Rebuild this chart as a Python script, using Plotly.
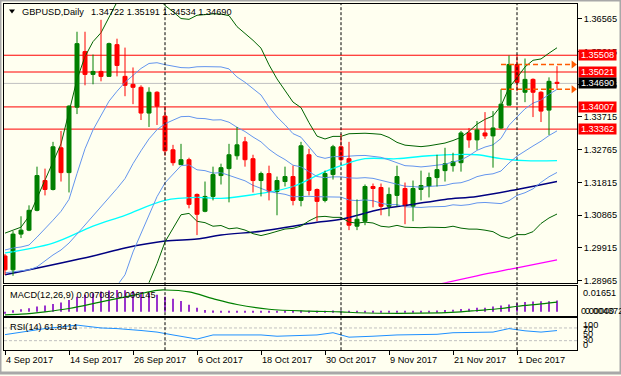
import plotly.graph_objects as go
import numpy as np

W, H = 621, 376
def px_x(p): return p / W
def px_y(p): return 1 - p / H

FONT = "Liberation Sans, Arial, sans-serif"
FS = 9.2

# ---------------- price data (daily bars, 4 Sep 2017 .. 8 Dec 2017) ----------------
opens = [1.29677, 1.29274, 1.30312, 1.30427, 1.31003, 1.31868, 1.31608, 1.32819, 1.32098, 1.34000,
         1.35614, 1.34952, 1.35038, 1.34894, 1.35816, 1.34894, 1.34663, 1.34577, 1.33828, 1.34433,
         1.33741, 1.32761, 1.32329, 1.32473, 1.31464, 1.30974, 1.31407, 1.32012, 1.32214, 1.32588,
         1.32992, 1.32502, 1.31868, 1.32070, 1.31551, 1.31839, 1.31983, 1.31291, 1.32617, 1.31608,
         1.31291, 1.32041, 1.32848, 1.32502, 1.30542, 1.30686, 1.31695, 1.31666, 1.31118, 1.31436,
         1.31637, 1.31118, 1.31608, 1.31695, 1.31954, 1.32156, 1.32300, 1.32387, 1.33251, 1.33049,
         1.33251, 1.33165, 1.33395, 1.34058, 1.35240, 1.34433, 1.34807, 1.34433, 1.33914, 1.34722]
highs = [1.29735, 1.30398, 1.30830, 1.31147, 1.32271, 1.32214, 1.32992, 1.33309, 1.34058, 1.36191,
         1.36191, 1.35528, 1.36537, 1.35874, 1.35989, 1.35730, 1.35153, 1.34635, 1.34577, 1.34462,
         1.34029, 1.32905, 1.32934, 1.32531, 1.31493, 1.31839, 1.32271, 1.32358, 1.32934, 1.33424,
         1.33136, 1.32617, 1.32127, 1.32300, 1.31983, 1.32271, 1.32300, 1.32992, 1.32790, 1.31637,
         1.32156, 1.32905, 1.33222, 1.32992, 1.31320, 1.31753, 1.31781, 1.31781, 1.31666, 1.32300,
         1.31810, 1.31868, 1.32156, 1.32098, 1.32617, 1.32819, 1.32675, 1.33309, 1.33395, 1.33597,
         1.33856, 1.33885, 1.34519, 1.35499, 1.35528, 1.35413, 1.34836, 1.34462, 1.34865, 1.35191]
lows = [1.29130, 1.29101, 1.30196, 1.30398, 1.30974, 1.31436, 1.31580, 1.31839, 1.31522, 1.33799,
        1.34635, 1.34663, 1.34750, 1.34894, 1.34894, 1.34318, 1.34087, 1.33626, 1.33424, 1.33482,
        1.32588, 1.32300, 1.32329, 1.31061, 1.30283, 1.30946, 1.31291, 1.31753, 1.31234, 1.32473,
        1.32271, 1.31522, 1.31407, 1.31291, 1.30859, 1.31695, 1.31147, 1.31118, 1.31436, 1.30686,
        1.31234, 1.31897, 1.32415, 1.30427, 1.30427, 1.30571, 1.31090, 1.30859, 1.30830, 1.31118,
        1.30600, 1.30686, 1.31291, 1.31378, 1.31695, 1.31839, 1.32127, 1.32127, 1.32819, 1.32761,
        1.33078, 1.32242, 1.33366, 1.34058, 1.34462, 1.34145, 1.33712, 1.33568, 1.33193, 1.34534]
closes = [1.29274, 1.30312, 1.30427, 1.31003, 1.32012, 1.31608, 1.32848, 1.32098, 1.34029, 1.35845,
          1.34952, 1.35038, 1.34894, 1.35845, 1.35211, 1.34635, 1.34577, 1.33828, 1.34433, 1.34029,
          1.32732, 1.32387, 1.32473, 1.31176, 1.30888, 1.31407, 1.32041, 1.32242, 1.32617, 1.32905,
          1.32473, 1.31868, 1.32070, 1.31551, 1.31868, 1.31983, 1.31291, 1.32877, 1.31580, 1.31263,
          1.32070, 1.32848, 1.32473, 1.30571, 1.30744, 1.31695, 1.31637, 1.31118, 1.31464, 1.31983,
          1.31118, 1.31637, 1.31724, 1.31954, 1.32185, 1.32358, 1.32415, 1.33251, 1.33049, 1.33338,
          1.33165, 1.33395, 1.34087, 1.35240, 1.34721, 1.34807, 1.34433, 1.33885, 1.34750, 1.34690]

# Bollinger lines for the first 19 bars (their 20-bar window starts before the view)
bb_mid_early = [1.29188, 1.29216, 1.29245, 1.29274, 1.29360, 1.29533, 1.29706, 1.29850, 1.30052, 1.30312,
                1.30571, 1.30830, 1.31090, 1.31349, 1.31637, 1.31925, 1.32358, 1.32732, 1.33078]
bb_up1_early = [1.29850, 1.29908, 1.29937, 1.29994, 1.30225, 1.30456, 1.30715, 1.30974, 1.31320, 1.32070,
                1.32790, 1.33338, 1.33741, 1.34173, 1.34462, 1.34721, 1.34923, 1.35124, 1.35269]
bb_dn1_early = [1.28525, 1.28525, 1.28553, 1.28553, 1.28496, 1.28611, 1.28698, 1.28727, 1.28784, 1.28553,
                1.28352, 1.28323, 1.28438, 1.28525, 1.28813, 1.29130, 1.29793, 1.30340, 1.30888]
bb_up2_early = [1.30340, 1.30427, 1.30513, 1.30830, 1.31349, 1.31868, 1.32415, 1.32934, 1.33856, 1.34807,
                1.35470, 1.35903, 1.36162, 1.36594, 1.37055, 1.37401, 1.37516, 1.37401, 1.37257]
bb_dn2_early = [1.28035, 1.28006, 1.27977, 1.27718, 1.27372, 1.27199, 1.26997, 1.26767, 1.26248, 1.25815,
                1.25671, 1.25758, 1.26017, 1.26104, 1.26219, 1.26449, 1.27199, 1.28064, 1.28899]

# slower moving averages (bar index, price)
cyan_idx = [0, 6, 11, 15, 20, 24, 27, 32, 36, 40, 42, 45, 49, 53, 59, 62, 65, 69]
cyan_val = [1.29764, 1.30052, 1.30542, 1.30859, 1.31291, 1.31378, 1.31349, 1.31493, 1.31695, 1.32127,
            1.32300, 1.32502, 1.32502, 1.32588, 1.32617, 1.32502, 1.32444, 1.32444]
navy_idx = [0, 11, 15, 20, 24, 27, 32, 36, 39, 42, 47, 51, 55, 59, 64, 69]
navy_val = [1.29130, 1.29677, 1.29908, 1.30110, 1.30167, 1.30283, 1.30398, 1.30542, 1.30657, 1.30744,
            1.31032, 1.31176, 1.31320, 1.31407, 1.31608, 1.31839]
mag_idx = [54, 59, 64, 69]
mag_val = [1.28842, 1.29101, 1.29332, 1.29562]

# MACD(12,26,9)
macd_main = [-0.0008, 0.0010, 0.0016, 0.0023, 0.0033, 0.0040, 0.0050, 0.0058, 0.0075, 0.0095,
             0.0108, 0.0118, 0.0128, 0.0135, 0.0138, 0.0136, 0.0132, 0.0125, 0.0118, 0.0108,
             0.0095, 0.0082, 0.0068, 0.0045, 0.0025, 0.0012, 0.0008, 0.0005, 0.0005, 0.0006,
             0.0006, 0.0004, 0.0003, 0.0002, 0.0006, 0.0006, 0.0005, 0.0008, 0.0006, 0.0005,
             0.0005, 0.0008, 0.0008, 0.0004, 0.0003, 0.0004, 0.0004, 0.0004, 0.0004, 0.0005,
             0.0004, 0.0004, 0.0005, 0.0006, 0.0008, 0.0011, 0.0013, 0.0018, 0.0020, 0.0025,
             0.0025, 0.0033, 0.0040, 0.0046, 0.0054, 0.0062, 0.0065, 0.0067, 0.0067, 0.007082]
signal_idx = [0, 2, 5, 8, 12, 16, 19, 20, 23, 26, 29, 33, 38, 42, 44, 52, 57, 59, 62, 64, 67, 69]
signal_val = [-0.0019, -0.0015, 0.0, 0.0021, 0.0063, 0.0104, 0.0136, 0.0138, 0.0126, 0.0083, 0.0046,
              0.0016, 0.0004, 0.0, -0.0006, -0.0009, 0.0, 0.0008, 0.0021, 0.0035, 0.0050, 0.006145]

# RSI(14)
rsi_idx = [0, 2, 5, 8, 9, 12, 14, 17, 19, 21, 24, 26, 32, 34, 39, 41, 43, 46, 49, 54, 56, 61, 63, 65, 67, 69]
rsi_val = [49, 57, 68, 76, 79, 70, 68, 62, 57, 48, 35, 48, 48, 44, 48, 55, 41, 44, 48, 50, 55, 57, 68, 61, 57, 61.8414]

# axis / annotation content
date_tick_pos = [0, 8, 16, 24, 32, 40, 48, 56, 64]
date_tick_text = ["4 Sep 2017", "14 Sep 2017", "26 Sep 2017", "6 Oct 2017", "18 Oct 2017",
                  "30 Oct 2017", "9 Nov 2017", "21 Nov 2017", "1 Dec 2017"]
month_starts = [20, 42, 64]
price_ticks = [1.36565, 1.35615, 1.34665, 1.33715, 1.32765, 1.31815, 1.30865, 1.29915, 1.28965]
sr_levels = [1.35508, 1.35021, 1.34007, 1.33362]
bid_price = 1.34690
day_range = [1.35240, 1.34519]
header_symbol = "GBPUSD,Daily"
header_ohlc = "1.34722 1.35191 1.34534 1.34690"

# ---------------- derived ----------------
n = len(closes)
idx = np.arange(n)
c = np.array(closes)
up2 = np.zeros(n); up1 = np.zeros(n); mid = np.zeros(n); dn1 = np.zeros(n); dn2 = np.zeros(n)
for i in range(n):
    if i < 19:
        up2[i], up1[i], mid[i], dn1[i], dn2[i] = (bb_up2_early[i], bb_up1_early[i], bb_mid_early[i],
                                                  bb_dn1_early[i], bb_dn2_early[i])
    else:
        w = c[i - 19:i + 1]
        m, s = w.mean(), w.std()
        mid[i], up1[i], dn1[i], up2[i], dn2[i] = m, m + s, m - s, m + 2 * s, m - 2 * s

XR = [-0.125, 71.5]
Y_MAIN = [1.37113 - 0.0002882 * 285, 1.37113 - 0.0002882 * 4]

fig = go.Figure()

BG = "#FFFFF0"
GREEN = "#008000"
RED = "#FF0000"
BBG = "#006400"
BBB = "#6495ED"

def line(x, y, color, width=1, shape="linear", xa="x", ya="y"):
    fig.add_trace(go.Scatter(x=list(x), y=list(y), mode="lines", line=dict(color=color, width=width, shape=shape),
                             xaxis=xa, yaxis=ya, hoverinfo="skip", showlegend=False, cliponaxis=True))

# moving averages
line(cyan_idx, cyan_val, "#00FFFF", 1.3, "spline")
line(navy_idx, navy_val, "#000080", 1.5, "spline")
line(mag_idx, mag_val, "#FF00FF", 1.3, "spline")
# bollinger
for arr, col in [(up2, BBG), (dn2, BBG), (up1, BBB), (mid, BBB), (dn1, BBB)]:
    line(idx, arr, col, 1)

# candles
for col, cond in [(GREEN, lambda o, cl: cl >= o), (RED, lambda o, cl: cl < o)]:
    sel = [i for i in range(n) if cond(opens[i], closes[i])]
    wx, wy = [], []
    for i in sel:
        wx += [i, i, None]; wy += [lows[i], highs[i], None]
    line(wx, wy, col, 1)
    fig.add_trace(go.Bar(x=sel, y=[abs(closes[i] - opens[i]) for i in sel],
                         base=[min(opens[i], closes[i]) for i in sel], width=0.5,
                         marker=dict(color=col, line=dict(color=col, width=1)),
                         xaxis="x", yaxis="y", hoverinfo="skip", showlegend=False))

# today's high / low markers
for p in day_range:
    fig.add_trace(go.Scatter(x=[62, 70.7], y=[p, p], mode="lines",
                             line=dict(color="#FF5A00", width=1.5, dash="5px,3px"),
                             xaxis="x", yaxis="y", hoverinfo="skip", showlegend=False))
    fig.add_trace(go.Scatter(x=[71.05], y=[p], mode="markers",
                             marker=dict(symbol="triangle-right", size=7, color="#FF5A00"),
                             xaxis="x", yaxis="y", hoverinfo="skip", showlegend=False, cliponaxis=False))

# MACD pane
fig.add_trace(go.Bar(x=list(idx), y=macd_main, width=0.25, marker=dict(color="#9932CC", line=dict(width=0)),
                     xaxis="x2", yaxis="y2", hoverinfo="skip", showlegend=False))
line(signal_idx, signal_val, GREEN, 1.2, "spline", "x2", "y2")

# RSI pane
line(rsi_idx, rsi_val, "#1E90FF", 1, "linear", "x3", "y3")

shapes = []
for p in sr_levels:
    shapes.append(dict(type="line", xref="x", yref="y", x0=XR[0], x1=XR[1], y0=p, y1=p,
                       line=dict(color=RED, width=1), layer="below"))
shapes.append(dict(type="line", xref="x", yref="y", x0=XR[0], x1=XR[1], y0=bid_price, y1=bid_price,
                   line=dict(color="#C0C0C0", width=1), layer="below"))
for lv in [70, 30]:
    shapes.append(dict(type="line", xref="x3", yref="y3", x0=XR[0], x1=XR[1], y0=lv, y1=lv,
                       line=dict(color="#C0C0C0", width=1, dash="3px,2px"), layer="below"))
for m in month_starts:
    shapes.append(dict(type="line", xref="x", yref="paper", x0=m, x1=m, y0=px_y(353), y1=px_y(4),
                       line=dict(color="black", width=1, dash="3px,2px")))
# header triangle
tri = "M %f %f L %f %f L %f %f Z" % (px_x(9), px_y(9.5), px_x(15), px_y(9.5), px_x(12), px_y(13.5))
shapes.append(dict(type="path", xref="paper", yref="paper", path=tri, fillcolor="black", line=dict(width=0)))
# window frame
shapes.append(dict(type="rect", xref="paper", yref="paper", x0=0, x1=1, y0=0, y1=1,
                   line=dict(color="#A8A8A8", width=3)))

ann = []
def text(x, y, s, color="black", xanchor="left", **kw):
    d = dict(xref="paper", yref="paper", x=px_x(x), y=px_y(y), text=s, showarrow=False,
             xanchor=xanchor, yanchor="middle", font=dict(family=FONT, size=FS, color=color))
    d.update(kw)
    ann.append(d)

text(20, 12.5, header_symbol)
text(89, 12.5, header_ohlc)
text(8, 297, "MACD(12,26,9) %.6f %.6f" % (macd_main[-1], signal_val[-1]))
text(8, 330, "RSI(14) %.4f" % rsi_val[-1])
text(581, 295, "0.01651")
text(579, 313, "0.00000")
text(583, 313, "0.004372")
for s, yy in [("100", 327.5), ("70", 332), ("50", 337), ("30", 343), ("0", 348)]:
    text(581, yy, s)
for pos, s in zip(date_tick_pos, date_tick_text):
    ann.append(dict(xref="x3", yref="paper", x=pos, y=px_y(363), text=s, showarrow=False,
                    xanchor="left", yanchor="middle", xshift=-1, font=dict(family=FONT, size=FS, color="black")))
for p, bg in [(1.35508, RED), (1.35021, RED), (bid_price, "black"), (1.34007, RED), (1.33362, RED)]:
    ann.append(dict(xref="paper", yref="y", x=px_x(578), y=p, text="%.5f" % p, showarrow=False,
                    xanchor="left", yanchor="middle", bgcolor=bg, width=37, height=10, borderpad=0,
                    align="center", font=dict(family=FONT, size=FS, color="white")))

axis_common = dict(range=XR, showgrid=False, zeroline=False, showline=True, mirror=True,
                   linecolor="black", linewidth=1, fixedrange=True)
fig.update_layout(
    width=W, height=H, autosize=False, margin=dict(l=0, r=0, t=0, b=0),
    paper_bgcolor=BG, plot_bgcolor=BG, barmode="overlay", showlegend=False,
    font=dict(family=FONT, size=FS, color="black"),
    xaxis=dict(domain=[px_x(4), px_x(577)], anchor="y", showticklabels=False, ticks="", **axis_common),
    yaxis=dict(domain=[px_y(285), px_y(4)], range=Y_MAIN, side="right", tickvals=price_ticks,
               ticktext=["%.5f" % t for t in price_ticks], ticks="outside", ticklen=4, tickcolor="black",
               showgrid=False, zeroline=False, showline=True, mirror=True, linecolor="black",
               tickfont=dict(family=FONT, size=FS, color="black"), anchor="x", fixedrange=True),
    xaxis2=dict(domain=[px_x(4), px_x(577)], anchor="y2", showticklabels=False, ticks="", **axis_common),
    yaxis2=dict(domain=[px_y(318.5), px_y(288)], range=[-0.00264, 0.01651], showticklabels=False, ticks="",
                showgrid=False, zeroline=False, showline=True, mirror=True, linecolor="black", anchor="x2",
                fixedrange=True),
    xaxis3=dict(domain=[px_x(4), px_x(577)], anchor="y3", showticklabels=False, ticks="outside", ticklen=4,
                tickcolor="black", tickvals=date_tick_pos, **axis_common),
    yaxis3=dict(domain=[px_y(353), px_y(321)], range=[0, 100], showticklabels=False, ticks="",
                showgrid=False, zeroline=False, showline=True, mirror=True, linecolor="black", anchor="x3",
                fixedrange=True),
    shapes=shapes, annotations=ann,
)
fig.write_html("out.html", config={"displayModeBar": False},
               post_script="document.body.style.margin='0';document.body.style.overflow='hidden';")
